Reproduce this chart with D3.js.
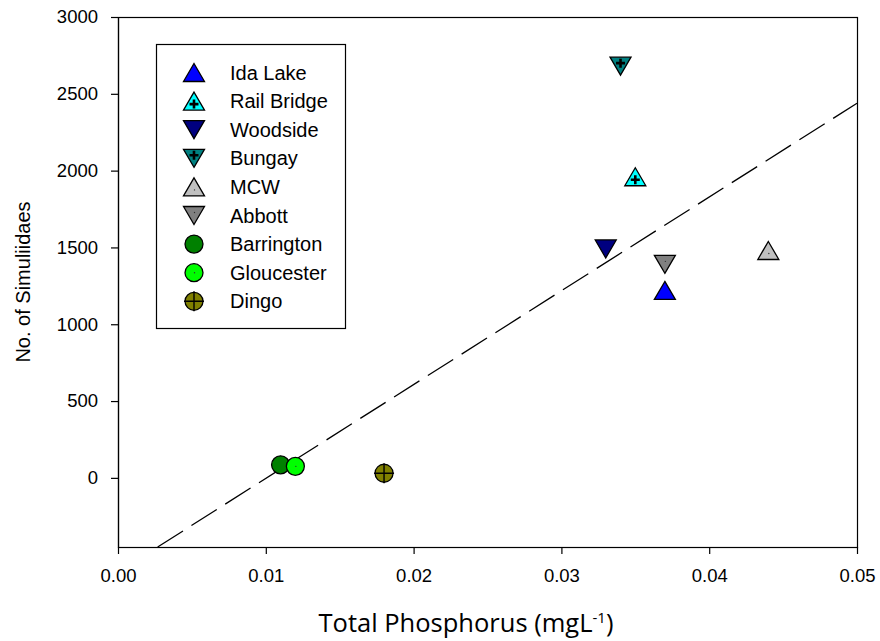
<!DOCTYPE html>
<html>
<head>
<meta charset="utf-8">
<script src="https://cdn.jsdelivr.net/npm/d3@7"></script>
<style>
  body { margin: 0; background: #fff; }
  svg { display: block; }
</style>
</head>
<body>
<div id="main"></div>
<script>
// site data
const sites = ["Ida Lake", "Rail Bridge", "Woodside", "Bungay", "MCW", "Abbott", "Barrington", "Gloucester", "Dingo"]
const phosphorus = [0.037, 0.035, 0.033, 0.034, 0.044, 0.037, 0.011, 0.012, 0.018]
const simuliidae = [1220, 1960, 1490, 2680, 1480, 1390, 85, 75, 30]
const shapes = ["up", "up", "down", "down", "up", "down", "circle", "circle", "circle"]
const marks = ["none", "plus", "none", "plus", "dot", "dot", "none", "dot", "cross"]
const fills = ["#0000ff", "#00ffff", "#000080", "#008080", "#c0c0c0", "#808080", "#008000", "#00ff00", "#808000"]
const xTicks = [0, 0.01, 0.02, 0.03, 0.04, 0.05]
const yTicks = [0, 500, 1000, 1500, 2000, 2500, 3000]

let margin = {top: 17, left: 118}
let W = 739, H = 530
let arial = "'Liberation Sans', Arial, sans-serif"

let svg = d3.select("#main").append("svg")
    .attr("width", 880)
    .attr("height", 641)
let g = svg.append("g")
    .attr("transform", `translate(${margin.left} ${margin.top})`)

let scX = d3.scaleLinear().domain([0, 0.05]).range([0, W])
let scY = d3.scaleLinear().domain([-450, 3000]).range([H, 0])

// linear regression through all sites
let mx = d3.mean(phosphorus), my = d3.mean(simuliidae)
let sxy = d3.sum(phosphorus, (x, i) => (x - mx) * (simuliidae[i] - my))
let sxx = d3.sum(phosphorus, x => (x - mx) * (x - mx))
let slope = sxy / sxx, icept = my - slope * mx
let x0 = (scY.domain()[0] - icept) / slope
g.append("path")
    .attr("d", d3.line().x(d => scX(d)).y(d => scY(icept + slope * d))([x0, 0.05]))
    .attr("fill", "none")
    .attr("stroke", "#000")
    .attr("stroke-width", 1.3)
    .attr("stroke-dasharray", "30,10")

// frame
g.append("rect")
    .attr("x", 0.5).attr("y", 0.5)
    .attr("width", W).attr("height", H)
    .attr("fill", "none").attr("stroke", "#000").attr("stroke-width", 1.2)

// axes
let ax = g.append("g")
    .attr("transform", `translate(0, ${H})`)
    .call(d3.axisBottom(scX).tickValues(xTicks).tickFormat(d3.format(".2f")).tickSize(7).tickSizeOuter(0).tickPadding(15))
ax.selectAll("text")
    .attr("font-family", arial)
    .attr("font-size", 18.5).attr("fill", "#000")
let ay = g.append("g")
    .call(d3.axisLeft(scY).tickValues(yTicks).tickFormat(d3.format("d")).tickSize(7).tickSizeOuter(0).tickPadding(13))
ay.selectAll("text")
    .attr("font-family", arial)
    .attr("font-size", 18.5).attr("fill", "#000")
svg.selectAll(".domain").attr("stroke-width", 1.2)
svg.selectAll(".tick line").attr("stroke-width", 1.2)

// marker drawing
function drawMarker(sel, shape, mark, fill) {
    let tw = 10.5, th = 9
    if (shape == "up") {
        sel.append("path").attr("d", `M0,${-th}L${tw},${th}L${-tw},${th}Z`)
    } else if (shape == "down") {
        sel.append("path").attr("d", `M0,${th}L${tw},${-th}L${-tw},${-th}Z`)
    } else {
        sel.append("circle").attr("r", 9)
    }
    sel.selectAll("path, circle")
        .attr("fill", fill).attr("stroke", "#000").attr("stroke-width", 1.3)
    let cy = shape == "up" ? 3 : shape == "down" ? -3 : 0
    if (mark == "plus") {
        sel.append("path").attr("d", `M-4.5,${cy}H4.5M0,${cy - 4.5}V${cy + 4.5}`)
            .attr("stroke", "#000").attr("stroke-width", 2.6)
    } else if (mark == "cross") {
        sel.append("path").attr("d", "M-10,0H10M0,-10V10")
            .attr("stroke", "#000").attr("stroke-width", 1.4)
    } else if (mark == "dot") {
        sel.append("circle").attr("cx", 0.5).attr("cy", cy).attr("r", 0.7).attr("fill", "#333")
    }
}

// points
sites.forEach((s, i) => {
    let m = g.append("g")
        .attr("transform", `translate(${scX(phosphorus[i])}, ${scY(simuliidae[i])})`)
    drawMarker(m, shapes[i], marks[i], fills[i])
})

// legend
let lg = svg.append("g")
lg.append("rect")
    .attr("x", 156.5).attr("y", 44.5)
    .attr("width", 189).attr("height", 284)
    .attr("fill", "#fff").attr("stroke", "#000").attr("stroke-width", 1.2)
sites.forEach((s, i) => {
    let y = 72.5 + i * 28.6
    let m = lg.append("g").attr("transform", `translate(194, ${y})`)
    drawMarker(m, shapes[i], marks[i], fills[i])
    lg.append("text")
        .attr("x", 230).attr("y", y + 7)
        .attr("font-family", arial)
        .attr("font-size", 20)
        .text(s)
})

// axis titles
svg.append("text")
    .attr("transform", "translate(30, 282) rotate(-90)")
    .attr("text-anchor", "middle")
    .attr("font-family", arial)
    .attr("font-size", 20)
    .text("No. of Simuliidaes")

let xt = svg.append("text")
    .attr("x", 466).attr("y", 632)
    .attr("text-anchor", "middle")
    .attr("font-family", "'Open Sans', 'Noto Sans', sans-serif")
    .attr("font-size", 25.5)
xt.append("tspan").text("Total Phosphorus (mgL")
xt.append("tspan").attr("dy", -9).attr("font-size", 15).text("-1")
xt.append("tspan").attr("dy", 9).text(")")
</script>
</body>
</html>
